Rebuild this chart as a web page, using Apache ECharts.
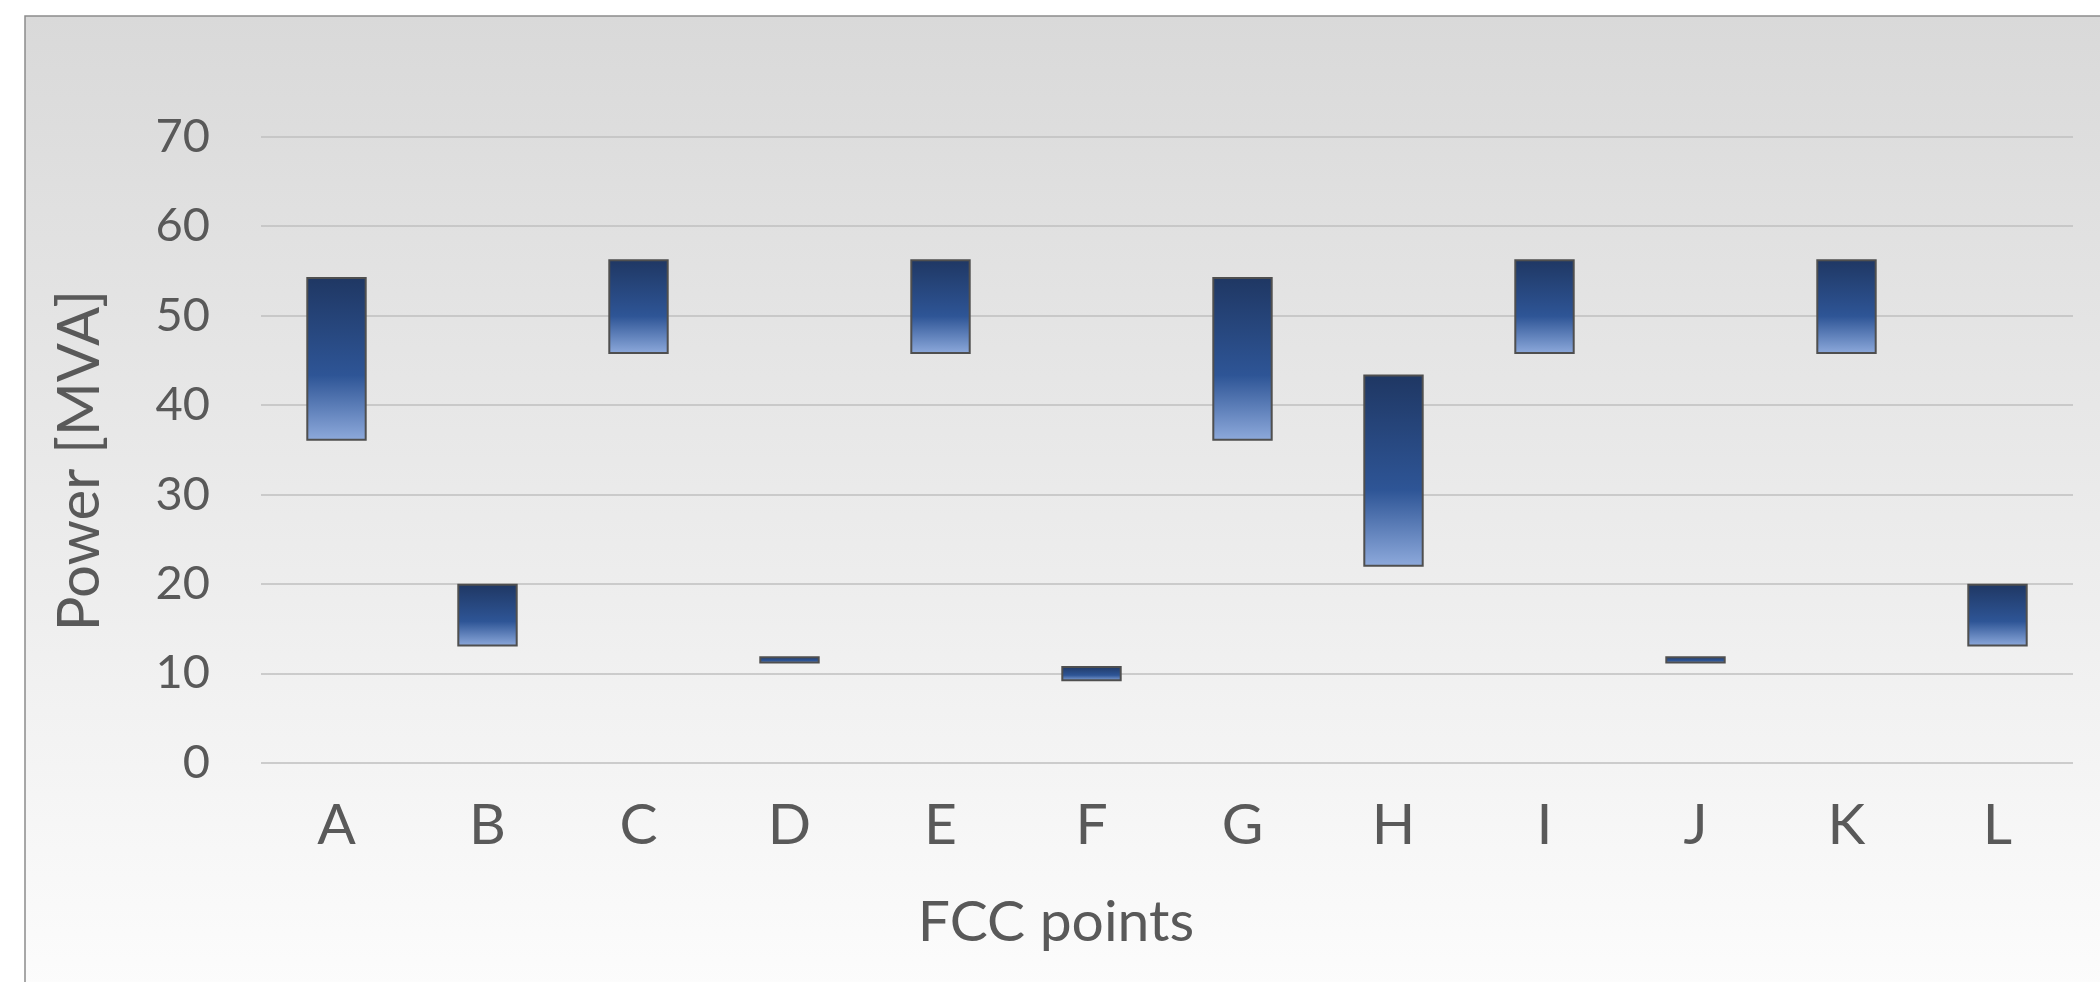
<!DOCTYPE html>
<html>
<head>
<meta charset="utf-8">
<title>FCC points</title>
<script src="https://cdn.jsdelivr.net/npm/echarts@6/dist/echarts.min.js"></script>
<style>
    html, body { margin: 0; padding: 0; background: #ffffff; }
    #main { width: 2100px; height: 982px; }
</style>
</head>
<body>
<div id="main"></div>
<script>
    // data
    var categories = ['A', 'B', 'C', 'D', 'E', 'F', 'G', 'H', 'I', 'J', 'K', 'L'];
    var lowVals = [36, 13, 45.7, 11.1, 45.7, 9.1, 36, 21.9, 45.7, 11.1, 45.7, 13];
    var highVals = [54.3, 20, 56.3, 11.9, 56.3, 10.8, 54.3, 43.4, 56.3, 11.9, 56.3, 20];
    var yTicks = [0, 10, 20, 30, 40, 50, 60, 70];

    var spanVals = highVals.map(function (h, i) {
        return +(h - lowVals[i]).toFixed(2);
    });

    var myChart = echarts.init(document.getElementById('main'));
    var txtColor = '#595959';

    var option = {
        backgroundColor: '#ffffff',
        animation: false,
        // chart area with the grey-to-white fill
        graphic: [{
            type: 'rect',
            z: -10,
            shape: { x: 25, y: 16, width: 2100, height: 1000 },
            style: {
                fill: new echarts.graphic.LinearGradient(0, 0, 0, 1, [
                    { offset: 0, color: '#d9d9d9' },
                    { offset: 1, color: '#fdfdfd' }
                ]),
                stroke: '#8c8c8c',
                lineWidth: 1.5
            }
        }],
        title: {
            text: 'FCC points',
            left: 1051,
            top: 889,
            textAlign: 'center',
            textStyle: {
                fontFamily: 'Lato',
                fontWeight: 'normal',
                fontSize: 57,
                color: txtColor
            }
        },
        grid: {
            left: 261,
            right: 27,
            top: 136.7,
            bottom: 219.3
        },
        xAxis: {
            type: 'category',
            data: categories,
            axisLine: { show: false },
            axisTick: { show: false },
            axisLabel: {
                margin: 34,
                fontFamily: 'Lato',
                fontSize: 57,
                color: txtColor
            }
        },
        yAxis: {
            type: 'value',
            min: yTicks[0],
            max: yTicks[yTicks.length - 1],
            interval: 10,
            name: 'Power [MVA]',
            nameLocation: 'middle',
            nameGap: 152,
            nameTextStyle: {
                fontFamily: 'Lato',
                fontSize: 58,
                color: txtColor,
                padding: [0, 22, 0, 0] // nudges the rotated name a bit lower
            },
            axisLine: { show: false },
            axisTick: { show: false },
            axisLabel: {
                margin: 51,
                fontFamily: 'Lato',
                fontSize: 47,
                color: txtColor
            },
            splitLine: {
                lineStyle: { color: '#bfbfbf', width: 1.5 }
            }
        },
        series: [
            {
                // invisible base so the bars float
                name: 'low',
                type: 'bar',
                stack: 'range',
                barWidth: '40%',
                itemStyle: { color: 'transparent' },
                data: lowVals
            },
            {
                name: 'range',
                type: 'bar',
                stack: 'range',
                barWidth: '40%',
                itemStyle: {
                    color: new echarts.graphic.LinearGradient(0, 0, 0, 1, [
                        { offset: 0, color: '#1f3763' },
                        { offset: 0.6, color: '#2e5596' },
                        { offset: 1, color: '#8eaadc' }
                    ]),
                    borderColor: '#4f4f4f',
                    borderWidth: 2
                },
                data: spanVals
            }
        ]
    };

    myChart.setOption(option);
</script>
</body>
</html>
